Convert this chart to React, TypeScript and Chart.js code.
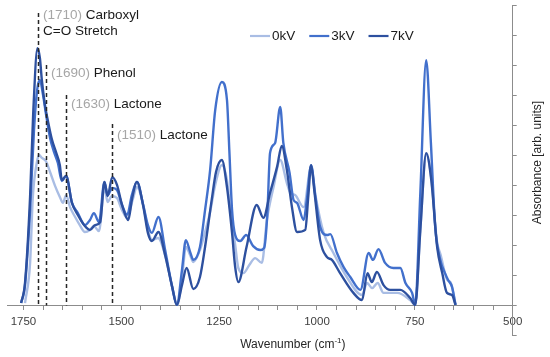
import React, { useEffect, useRef } from 'react';
import { Chart, registerables } from 'chart.js';

Chart.register(...registerables);

// ---------- data ----------
const seriesNames = ['0kV', '3kV', '7kV'];
const seriesColors = ['#a9bde4', '#4270cc', '#2d509f'];

const wavenumbers0kV = [1746,1733,1726,1716,1710,1703,1693,1682,1669,1657,1649,1641,1631,1618,1606,1593,1580,1570,1557,1543,1535,1524,1511,1498,1485,1471,1460,1444,1432,1421,1406,1388,1370,1357,1344,1335,1324,1316,1299,1286,1273,1260,1243,1230,1222,1209,1201,1188,1173,1158,1141,1128,1111,1094,1077,1068,1056,1034,1015,1004,983,958,924,885,872,859,845,830,795,762,749,736,721,708,694,684,667,659,646];
const absorbance0kV = [0.08,1.42,3.62,4.75,5.02,4.92,4.82,4.45,3.98,3.62,3.42,3.68,3.28,2.95,2.68,2.45,2.52,2.65,2.48,3.95,3.45,3.65,3.58,3.18,2.92,3.52,3.95,3.35,2.52,2.18,2.25,1.68,0.62,0.02,1.02,1.95,1.68,1.45,1.85,2.45,3.12,4.02,4.68,4.18,3.25,2.02,1.25,1.08,1.35,1.58,1.42,2.85,3.95,4.85,4.08,3.75,3.68,3.28,4.62,3.68,2.42,1.75,0.95,0.35,0.75,0.58,0.75,0.42,0.42,0.18,0.02,2.52,5.02,4.25,2.18,1.68,0.85,0.78,0.02];

const wavenumbers3kV = [1756,1746,1733,1723,1715,1708,1700,1692,1682,1672,1662,1652,1641,1626,1611,1593,1580,1570,1557,1543,1535,1523,1511,1498,1485,1473,1460,1444,1432,1422,1405,1388,1370,1358,1345,1335,1324,1316,1299,1286,1273,1260,1243,1230,1224,1217,1209,1196,1181,1163,1145,1135,1127,1120,1107,1094,1086,1070,1060,1051,1034,1026,1015,1004,992,974,966,949,932,915,889,868,857,843,826,805,787,774,757,749,736,721,709,698,685,673,665,655,646];
const absorbance3kV = [0.08,0.68,3.18,5.85,7.18,7.52,7.02,6.35,5.58,5.12,4.75,4.15,4.32,3.42,3.08,2.68,2.85,3.08,2.78,4.12,3.68,3.92,3.85,3.35,3.02,3.68,4.12,3.35,2.68,2.42,2.95,1.85,0.62,0.02,1.18,2.18,1.78,1.52,1.95,3.18,4.52,6.52,7.45,6.85,5.18,3.18,2.35,2.15,2.35,1.98,1.85,1.92,3.02,5.08,5.42,6.62,5.42,4.42,3.52,3.42,2.85,3.52,4.68,3.62,2.62,2.35,2.38,1.75,1.28,0.95,0.52,1.75,1.52,1.88,1.42,1.25,1.25,0.75,0.42,0.02,3.75,8.18,5.42,2.62,1.52,1.08,0.85,0.62,0.02];

const wavenumbers7kV = [1756,1746,1733,1725,1714,1708,1703,1695,1687,1677,1667,1657,1652,1641,1626,1611,1593,1580,1567,1554,1543,1535,1523,1511,1498,1482,1473,1460,1444,1432,1422,1405,1388,1370,1358,1345,1333,1316,1299,1286,1269,1258,1243,1230,1217,1209,1201,1180,1154,1137,1120,1102,1090,1077,1064,1051,1030,1022,1015,1007,992,975,962,941,907,885,871,860,847,830,813,787,762,749,736,721,708,693,680,668,655,646];
const absorbance7kV = [0.08,0.75,3.62,6.42,8.58,8.25,7.52,6.68,6.12,5.52,5.12,4.68,4.18,4.32,3.42,3.02,2.65,2.52,2.68,2.78,4.12,3.65,4.28,4.02,3.35,2.85,3.52,4.12,3.32,2.42,2.15,2.45,1.68,0.62,0.02,0.68,1.25,0.55,0.95,1.95,3.52,4.45,4.85,3.95,2.42,1.28,0.78,1.95,3.35,2.92,3.75,4.62,5.32,4.52,3.28,2.45,2.52,3.68,4.68,3.85,2.18,1.62,1.52,1.08,0.42,0.18,1.08,0.78,1.12,0.68,0.52,0.52,0.25,0.02,2.52,5.08,4.18,1.95,1.08,0.42,0.35,0.02];

const xTickValues = [1750,1700,1650,1600,1550,1500,1450,1400,1350,1300,1250,1200,1150,1100,1050,1000,950,900,850,800,750,700,650,600,550,500];
const xLabelStep = 250;
const xMin = 500;
const xMax = 1792;
const yMin = -1;
const yMax = 10;

// band annotations (line position in cm-1, label text, line top / label level in absorbance units)
const bandWavenumbers = [1714, 1693, 1641, 1524];
const bandCodes = ['(1710)', '(1690)', '(1630)', '(1510)'];
const bandNames = ['Carboxyl', 'Phenol', 'Lactone', 'Lactone'];
const bandSubNames = ['C=O Stretch', '', '', ''];
const bandLineTops = [9.75, 8.02, 7.02, 6.05];
const bandLabelLevels = [9.67, 7.73, 6.72, 5.68];

const xTitleMain = 'Wavenumber (cm';
const xTitleSup = '-1';
const xTitleEnd = ')';
const yTitle = 'Absorbance [arb. units]';

const FONT = '"Liberation Sans", Arial, Helvetica, sans-serif';

const overlayPlugin = {
  id: 'overlay',
  afterDatasetsDraw(chart: any) {
    const { ctx, chartArea } = chart;
    const x = chart.scales.x;
    const y = chart.scales.y;
    ctx.save();

    // band markers
    bandWavenumbers.forEach((w, i) => {
      const px = Math.round(x.getPixelForValue(w)) + 0.5;
      ctx.setLineDash([4, 3]);
      ctx.strokeStyle = '#262626';
      ctx.lineWidth = 1.5;
      ctx.beginPath();
      ctx.moveTo(px, y.getPixelForValue(bandLineTops[i]));
      ctx.lineTo(px, y.getPixelForValue(0));
      ctx.stroke();
      ctx.setLineDash([]);

      ctx.font = '13.5px ' + FONT;
      ctx.textBaseline = 'middle';
      ctx.textAlign = 'left';
      const ty = y.getPixelForValue(bandLabelLevels[i]);
      const tx = px + 4.5;
      ctx.fillStyle = '#a6a6a6';
      ctx.fillText(bandCodes[i], tx, ty);
      const cw = ctx.measureText(bandCodes[i] + ' ').width;
      ctx.fillStyle = '#1a1a1a';
      ctx.fillText(bandNames[i], tx + cw, ty);
      if (bandSubNames[i]) ctx.fillText(bandSubNames[i], tx, ty + 16);
    });

    // legend
    ctx.font = '13.5px ' + FONT;
    ctx.textBaseline = 'middle';
    ctx.textAlign = 'left';
    let lx = chartArea.left + 243;
    const ly = chartArea.top + 30.5;
    seriesNames.forEach((name, i) => {
      ctx.strokeStyle = seriesColors[i];
      ctx.lineWidth = 2.2;
      ctx.beginPath();
      ctx.moveTo(lx, ly);
      ctx.lineTo(lx + 20, ly);
      ctx.stroke();
      ctx.fillStyle = '#1a1a1a';
      ctx.fillText(name, lx + 22, ly);
      lx += 22 + ctx.measureText(name).width + 14;
    });

    // x title with superscript
    ctx.fillStyle = '#262626';
    ctx.textBaseline = 'middle';
    ctx.font = '12px ' + FONT;
    const w1 = ctx.measureText(xTitleMain).width;
    const w3 = ctx.measureText(xTitleEnd).width;
    ctx.font = '8px ' + FONT;
    const w2 = ctx.measureText(xTitleSup).width;
    const total = w1 + w2 + w3;
    const cx = (chartArea.left + chartArea.right) / 2 + 33;
    const cy = y.getPixelForValue(0) + 39;
    let sx = cx - total / 2;
    ctx.font = '12px ' + FONT;
    ctx.fillText(xTitleMain, sx, cy);
    sx += w1;
    ctx.font = '8px ' + FONT;
    ctx.fillText(xTitleSup, sx, cy - 4);
    sx += w2;
    ctx.font = '12px ' + FONT;
    ctx.fillText(xTitleEnd, sx, cy);

    // y title rotated (reads bottom to top)
    ctx.save();
    ctx.translate(chartArea.right + 24.5, (chartArea.top + y.getPixelForValue(0)) / 2 + 7);
    ctx.rotate(-Math.PI / 2);
    ctx.textAlign = 'center';
    ctx.textBaseline = 'middle';
    ctx.font = '12px ' + FONT;
    ctx.fillText(yTitle, 0, 0);
    ctx.restore();

    ctx.restore();
  },
};

function buildSeries(wn: number[], ab: number[]) {
  return wn.map((w, i) => ({ x: w, y: ab[i] }));
}

export default function App() {
  const canvasRef = useRef<HTMLCanvasElement | null>(null);

  useEffect(() => {
    if (!canvasRef.current) return;
    const seriesData = [
      buildSeries(wavenumbers0kV, absorbance0kV),
      buildSeries(wavenumbers3kV, absorbance3kV),
      buildSeries(wavenumbers7kV, absorbance7kV),
    ];
    const chart = new Chart(canvasRef.current, {
      type: 'line',
      data: {
        datasets: seriesNames.map((name, i) => ({
          label: name,
          data: seriesData[i],
          borderColor: seriesColors[i],
          backgroundColor: seriesColors[i],
          borderWidth: 2.4,
          pointRadius: 0,
          cubicInterpolationMode: 'monotone' as const,
          fill: false,
          order: 2 - i,
        })),
      },
      options: {
        animation: false,
        responsive: false,
        maintainAspectRatio: false,
        layout: { padding: { left: 7, top: 5.5, right: 0, bottom: 21.5 } },
        plugins: {
          legend: { display: false },
          tooltip: { enabled: false },
        },
        scales: {
          x: {
            type: 'linear',
            reverse: true,
            min: xMin,
            max: xMax,
            position: { y: 0 } as any,
            afterBuildTicks: (scale: any) => {
              scale.ticks = xTickValues.map((v) => ({ value: v }));
            },
            ticks: {
              autoSkip: false,
              maxRotation: 0,
              padding: 5,
              color: '#404040',
              font: { family: FONT, size: 11.5 },
              callback: (v: any) => (Number(v) % xLabelStep === 0 ? String(v) : ''),
            },
            grid: { drawOnChartArea: false, drawTicks: true, tickLength: 4, color: '#8c8c8c' },
            border: { display: true, color: '#8c8c8c', width: 1 },
          },
          y: {
            type: 'linear',
            position: 'right',
            min: yMin,
            max: yMax,
            ticks: { display: false, stepSize: 1 },
            grid: { drawOnChartArea: false, drawTicks: true, tickLength: 4, color: '#8c8c8c' },
            border: { display: true, color: '#8c8c8c', width: 1 },
            afterFit: (scale: any) => {
              scale.width = 37.3;
            },
          },
        },
      },
      plugins: [overlayPlugin],
    });
    return () => chart.destroy();
  }, []);

  return (
    <div style={{ position: 'absolute', left: 0, top: 0, width: 550, height: 357, background: '#fff' }}>
      <canvas ref={canvasRef} width={550} height={357} style={{ display: 'block' }} />
    </div>
  );
}
